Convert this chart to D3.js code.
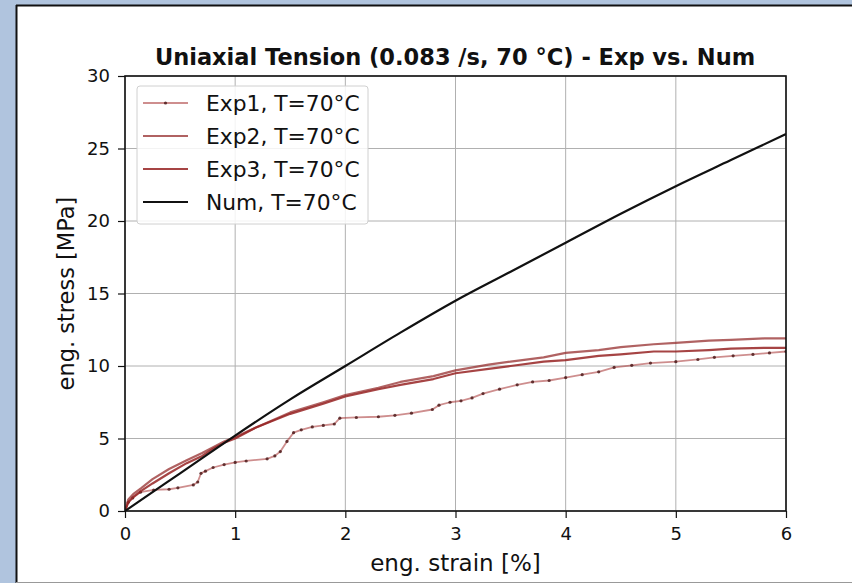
<!DOCTYPE html>
<html>
<head>
<meta charset="utf-8">
<script src="https://cdn.jsdelivr.net/npm/d3@7"></script>
<style>
  html, body { margin: 0; padding: 0; background: #b0c4de; }
  svg { display: block; }
  text { font-family: "DejaVu Sans", sans-serif; fill: #111; }
</style>
</head>
<body>
<div id="chart"></div>
<script>
// svg size
let svg_width = 852;
let svg_height = 583;

// plot box
let margin = { top: 76, right: 66, bottom: 72, left: 125 };
let width = 786 - margin.left;
let height = 511 - margin.top;

// ---- data ----
let x_ticks = [0, 1, 2, 3, 4, 5, 6];
let y_ticks = [0, 5, 10, 15, 20, 25, 30];

let series_names = ['Exp1, T=70°C', 'Exp2, T=70°C', 'Exp3, T=70°C', 'Num, T=70°C'];

let exp1_strain = [0, 0.03, 0.07, 0.14, 0.26, 0.4, 0.48, 0.62, 0.66, 0.69, 0.73, 0.8, 0.9, 1.0, 1.1, 1.29,
  1.36, 1.41, 1.47, 1.53, 1.6, 1.7, 1.8, 1.9, 1.95, 2.1, 2.3, 2.45, 2.6, 2.79, 2.85, 2.95, 3.05, 3.15,
  3.25, 3.4, 3.56, 3.7, 3.85, 4.0, 4.15, 4.3, 4.44, 4.6, 4.77, 5.0, 5.2, 5.35, 5.52, 5.7, 5.85, 6.0];
let exp1_stress = [0, 0.6, 0.9, 1.3, 1.45, 1.5, 1.6, 1.8, 2.0, 2.6, 2.75, 3.0, 3.2, 3.35, 3.45, 3.6,
  3.8, 4.1, 4.8, 5.4, 5.6, 5.8, 5.9, 6.0, 6.4, 6.45, 6.5, 6.6, 6.75, 7.0, 7.3, 7.5, 7.6, 7.8,
  8.1, 8.4, 8.7, 8.9, 9.0, 9.2, 9.4, 9.6, 9.9, 10.05, 10.2, 10.3, 10.45, 10.6, 10.7, 10.8, 10.9, 11.0];

let exp_strain = [0, 0.03, 0.08, 0.15, 0.25, 0.4, 0.56, 0.7, 0.8, 0.9, 1.0, 1.2, 1.5, 1.8, 2.0, 2.3,
  2.5, 2.8, 3.0, 3.3, 3.5, 3.8, 4.0, 4.3, 4.5, 4.8, 5.0, 5.3, 5.5, 5.8, 6.0];
let exp2_stress = [0, 0.8, 1.2, 1.6, 2.2, 2.9, 3.5, 4.0, 4.4, 4.8, 5.1, 5.8, 6.8, 7.5, 8.0, 8.5,
  8.9, 9.3, 9.7, 10.1, 10.3, 10.6, 10.9, 11.1, 11.3, 11.5, 11.6, 11.75, 11.8, 11.9, 11.9];
let exp3_stress = [0, 0.6, 1.0, 1.4, 1.9, 2.6, 3.3, 3.8, 4.3, 4.7, 5.0, 5.8, 6.7, 7.4, 7.9, 8.4,
  8.7, 9.1, 9.5, 9.8, 10.0, 10.3, 10.4, 10.7, 10.8, 11.0, 11.0, 11.1, 11.2, 11.25, 11.25];

let num_strain = [0, 0.25, 0.5, 0.75, 1, 1.5, 2, 2.5, 3, 3.5, 4, 4.5, 5, 5.5, 6];
let num_stress = [0, 1.3, 2.6, 3.9, 5.2, 7.7, 10.0, 12.3, 14.5, 16.5, 18.5, 20.5, 22.4, 24.2, 26.0];

// zip helper
function zip(xs, ys) {
  return xs.map((x, i) => ({ x: x, y: ys[i] }));
}

let series = [
  { name: series_names[0], data: zip(exp1_strain, exp1_stress), color: 'rgba(165,50,50,0.55)', width: 1.8, markers: true },
  { name: series_names[1], data: zip(exp_strain, exp2_stress), color: 'rgba(150,45,45,0.75)', width: 2.2 },
  { name: series_names[2], data: zip(exp_strain, exp3_stress), color: 'rgba(150,35,35,0.85)', width: 2.2 },
  { name: series_names[3], data: zip(num_strain, num_stress), color: '#111', width: 2.2, smooth: true }
];

let svg = d3.select('#chart').append('svg')
  .attr('width', svg_width)
  .attr('height', svg_height);

// white panel with dark top/left edge
svg.append('rect')
  .attr('x', 16).attr('y', 5)
  .attr('width', svg_width - 16).attr('height', 577)
  .attr('fill', '#fff');
svg.append('line').attr('x1', 16).attr('x2', svg_width).attr('y1', 5.5).attr('y2', 5.5)
  .attr('stroke', '#111').attr('stroke-width', 2);
svg.append('line').attr('x1', 16.5).attr('x2', 16.5).attr('y1', 5).attr('y2', 583)
  .attr('stroke', '#111').attr('stroke-width', 2);
svg.append('line').attr('x1', 16).attr('x2', svg_width).attr('y1', 582.5).attr('y2', 582.5)
  .attr('stroke', '#999').attr('stroke-width', 1);

let chart_group = svg.append('g')
  .attr('transform', `translate(${margin.left}, ${margin.top})`);

let xScale = d3.scaleLinear().domain([0, 6]).range([0, width]);
let yScale = d3.scaleLinear().domain([0, 30]).range([height, 0]);

// grid
chart_group.append('g')
  .selectAll('line.vgrid')
  .data(x_ticks)
  .enter()
  .append('line')
  .attr('x1', d => xScale(d)).attr('x2', d => xScale(d))
  .attr('y1', 0).attr('y2', height)
  .attr('stroke', '#b0b0b0').attr('stroke-width', 1);

chart_group.append('g')
  .selectAll('line.hgrid')
  .data(y_ticks)
  .enter()
  .append('line')
  .attr('x1', 0).attr('x2', width)
  .attr('y1', d => yScale(d)).attr('y2', d => yScale(d))
  .attr('stroke', '#b0b0b0').attr('stroke-width', 1);

// clip for the curves
chart_group.append('clipPath').attr('id', 'clip')
  .append('rect').attr('width', width).attr('height', height);

let line = d3.line()
  .x(d => xScale(d.x))
  .y(d => yScale(d.y));
let smoothLine = d3.line()
  .x(d => xScale(d.x))
  .y(d => yScale(d.y))
  .curve(d3.curveMonotoneX);

let curves = chart_group.append('g').attr('clip-path', 'url(#clip)');

series.forEach(function(s) {
  curves.append('path')
    .datum(s.data)
    .attr('d', s.smooth ? smoothLine : line)
    .attr('fill', 'none')
    .attr('stroke', s.color)
    .attr('stroke-width', s.width)
    .attr('stroke-linejoin', 'round');
  if (s.markers) {
    curves.selectAll(null)
      .data(s.data)
      .enter()
      .append('circle')
      .attr('cx', d => xScale(d.x))
      .attr('cy', d => yScale(d.y))
      .attr('r', 1.6)
      .attr('fill', 'rgba(70,20,20,0.8)');
  }
});

// axes
let bottomAxis = d3.axisBottom(xScale).tickValues(x_ticks).tickSize(7).tickPadding(9).tickFormat(d3.format('d'));
let leftAxis = d3.axisLeft(yScale).tickValues(y_ticks).tickSize(7).tickPadding(8).tickFormat(d3.format('d'));

let xAxis = chart_group.append('g')
  .attr('transform', `translate(0, ${height})`)
  .call(bottomAxis);
let yAxis = chart_group.append('g')
  .call(leftAxis);

[xAxis, yAxis].forEach(function(ax) {
  ax.select('.domain').remove();
  ax.selectAll('line').attr('stroke', '#111').attr('stroke-width', 1.2);
  ax.selectAll('text').attr('font-size', '18px').attr('fill', '#222')
    .style('font-family', '"DejaVu Sans", sans-serif');
});

// frame
chart_group.append('rect')
  .attr('width', width).attr('height', height)
  .attr('fill', 'none').attr('stroke', '#111').attr('stroke-width', 1.6);

// title
svg.append('text')
  .attr('x', 455)
  .attr('y', 65)
  .attr('text-anchor', 'middle')
  .attr('font-size', '22.5px')
  .attr('font-weight', 'bold')
  .text('Uniaxial Tension (0.083 /s, 70 °C) - Exp vs. Num');

// axis labels
svg.append('text')
  .attr('x', margin.left + width / 2)
  .attr('y', 571)
  .attr('text-anchor', 'middle')
  .attr('font-size', '23px')
  .attr('fill', '#222')
  .text('eng. strain [%]');

svg.append('text')
  .attr('transform', `translate(74, ${margin.top + height / 2}) rotate(-90)`)
  .attr('text-anchor', 'middle')
  .attr('font-size', '22.5px')
  .attr('fill', '#222')
  .text('eng. stress [MPa]');

// legend
let legend = svg.append('g').attr('transform', 'translate(137, 86)');
legend.append('rect')
  .attr('width', 231).attr('height', 138)
  .attr('rx', 3)
  .attr('fill', 'rgba(255,255,255,0.85)')
  .attr('stroke', '#d0d0d0');

let rows = legend.selectAll('g.row')
  .data(series)
  .enter()
  .append('g')
  .attr('transform', (d, i) => `translate(0, ${17 + i * 33})`);

rows.append('line')
  .attr('x1', 6).attr('x2', 51)
  .attr('stroke', d => d.color)
  .attr('stroke-width', d => d.width);

rows.filter(d => d.markers)
  .append('circle')
  .attr('cx', 28.5).attr('r', 1.6)
  .attr('fill', 'rgba(70,20,20,0.8)');

rows.append('text')
  .attr('x', 69)
  .attr('dy', '0.36em')
  .attr('font-size', '21.8px')
  .attr('fill', '#222')
  .text(d => d.name);
</script>
</body>
</html>
